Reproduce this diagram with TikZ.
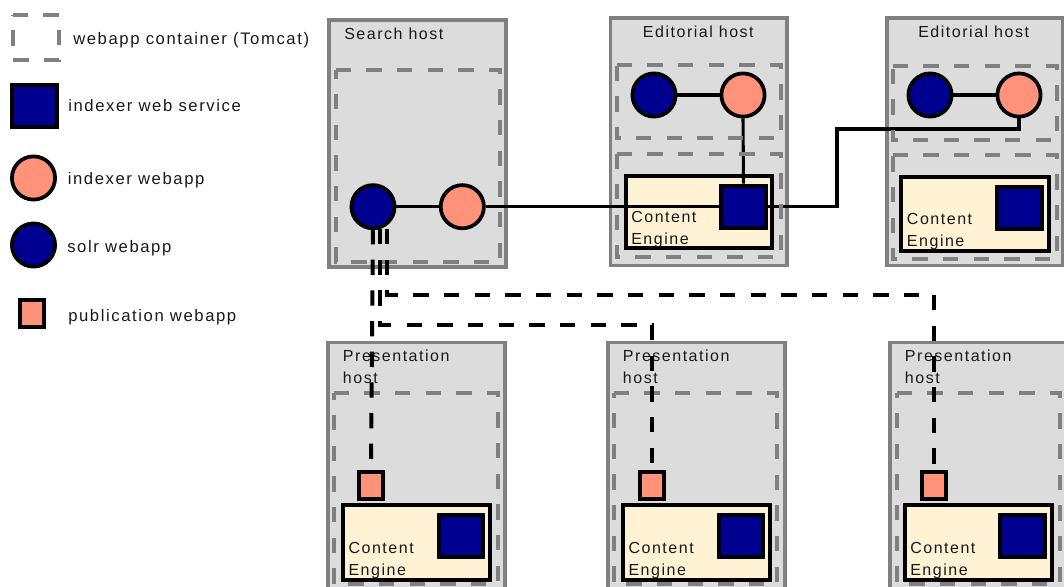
\documentclass[tikz,border=0pt]{standalone}
\usepackage{fontspec}
\setmainfont[LetterSpace=9.5]{Liberation Sans}
\definecolor{hostgray}{HTML}{808080}
\definecolor{hostfill}{HTML}{DCDCDC}
\definecolor{salmonw}{HTML}{FF9278}
\definecolor{navyw}{HTML}{000090}
\definecolor{creamw}{HTML}{FFF2D5}
\tikzset{
  hostbox/.style={draw=hostgray,fill=hostfill,line width=2.6pt,inner sep=0pt},
  enginebox/.style={draw=black,fill=creamw,line width=3pt,inner sep=0pt},
  wssquare/.style={draw=black,fill=navyw,line width=3pt,inner sep=0pt},
  pubsquare/.style={draw=black,fill=salmonw,line width=3pt,inner sep=0pt},
  solrc/.style={circle,draw=black,fill=navyw,line width=2.8pt,inner sep=0pt,minimum size=32.4pt},
  indexc/.style={circle,draw=black,fill=salmonw,line width=2.8pt,inner sep=0pt,minimum size=32.4pt},
  lbl/.style={anchor=base west,inner sep=0pt,font=\fontsize{12}{16.2}\selectfont,align=left,text=black!90},
  lgd/.style={lbl,font=\fontsize{12.5}{16.2}\selectfont},
  link/.style={draw=black,line width=2.3pt},
  dashlink/.style={draw=black,line width=3pt,dash pattern=on 11.5pt off 11.5pt},
  tomcat/.style={draw=hostgray,line width=2.8pt,dash pattern=on 11.5pt off 11.5pt},
}
\newcommand\boxat[6]{\node[#1,minimum width={(#5-#3-4)*0.75pt},minimum height={(#6-#4-4)*0.75pt}] (#2) at ({(#3+#5)/2},{(#4+#6)/2}) {};}
\newcommand\hostat[6]{\node[#1,minimum width={(#5-#3-3.4)*0.75pt},minimum height={(#6-#4-3.4)*0.75pt}] (#2) at ({(#3+#5)/2},{(#4+#6)/2}) {};}
\newcommand\container[5]{\node[inner sep=0pt,minimum width={(#4-#2)*0.75pt},minimum height={(#5-#3)*0.75pt}] (#1) at ({(#2+#4)/2},{(#3+#5)/2}) {};
  \draw[tomcat] (#1.north west) -- (#1.north east) -- (#1.south east) -- (#1.south west) -- cycle;}
\begin{document}
\begin{tikzpicture}[x=0.75pt,y=-0.75pt]
\useasboundingbox (0,0) rectangle (1064,586);
\clip (0,0) rectangle (1064,586);
% hosts
\hostat{hostbox}{hSearch}{327.5}{18.5}{507.5}{268.5}
\hostat{hostbox}{hEdA}{609}{16.5}{788.5}{267}
\hostat{hostbox}{hEdB}{885.5}{16.5}{1064.5}{267}
\hostat{hostbox}{hPrA}{326.5}{341}{506.5}{600}
\hostat{hostbox}{hPrB}{606.5}{341}{786.5}{600}
\hostat{hostbox}{hPrC}{888.5}{341}{1068}{600}
% content engines
\boxat{enginebox}{ceEdA}{624}{174}{774}{250}
\boxat{enginebox}{ceEdB}{899}{175}{1051}{253}
\boxat{enginebox}{cePrA}{341}{503}{492}{582}
\boxat{enginebox}{cePrB}{621}{503}{772}{582}
\boxat{enginebox}{cePrC}{903}{503}{1054}{582}
% indexer web services
\boxat{wssquare}{wsEdA}{719}{183.7}{768}{229.7}
\boxat{wssquare}{wsEdB}{995}{185}{1044}{231}
\boxat{wssquare}{wsPrA}{437}{513}{485}{559}
\boxat{wssquare}{wsPrB}{717}{513}{765}{559}
\boxat{wssquare}{wsPrC}{998}{513}{1047}{559}
% publication webapps
\boxat{pubsquare}{pubA}{357}{470}{385}{501}
\boxat{pubsquare}{pubB}{638}{470}{666}{501}
\boxat{pubsquare}{pubC}{920}{470}{948}{501}
% webapps
\node[solrc] (solrS) at (373,206.7) {};
\node[indexc] (idxS) at (462.3,206.7) {};
\node[solrc] (solrA) at (654,95) {};
\node[indexc] (idxA) at (743,95) {};
\node[solrc] (solrB) at (930,95) {};
\node[indexc] (idxB) at (1019,95) {};
% labels (the anchor of a two-line label is the baseline of its last line)
\node[lbl] (tSearch) at (344,39) {Search host};
\node[lbl] (tEdA) at (642.7,37) {Editorial host};
\node[lbl] (tEdB) at (918,37) {Editorial host};
\node[lbl] (tCeEdA) at (631,244.2) {Content\\Engine};
\node[lbl] (tCeEdB) at (906.7,246.2) {Content\\Engine};
\node[lbl] (tPrA) at (342.7,383) {Presentation\\host};
\node[lbl] (tPrB) at (622.7,383) {Presentation\\host};
\node[lbl] (tPrC) at (904.7,383) {Presentation\\host};
\node[lbl] (tCePrA) at (348.3,575) {Content\\Engine};
\node[lbl] (tCePrB) at (628.3,575) {Content\\Engine};
\node[lbl] (tCePrC) at (910,575) {Content\\Engine};
% solid connectors
\coordinate (riseB) at (837,206.7);
\coordinate (runB) at (1019,129);
\draw[link] (solrS) -- (idxS);
\draw[link] (solrA) -- (idxA);
\draw[link] (solrB) -- (idxB);
\draw[link] (idxS.east) -- (wsEdA.west);
\draw[link] (idxA.south) -- (wsEdA.north);
\draw[link] (wsEdA.east) -- (riseB) |- (runB) -- (idxB.south);
% containers
\container{cSearch}{336}{70}{500}{262}
\container{cEdAt}{617}{65}{781}{138}
\container{cEdAb}{617}{154}{781}{257}
\container{cEdBt}{893}{66}{1057}{140}
\container{cEdBb}{893}{155}{1057}{259}
\container{cPrA}{334}{393}{498}{584}
\container{cPrB}{614}{393}{777}{584}
\container{cPrC}{897}{393}{1060}{584}
% dashed connectors
\coordinate (outA) at (373,229);
\coordinate (outB) at (380,229);
\coordinate (outC) at (386.7,229);
\coordinate (laneB) at (500,325);
\coordinate (laneC) at (500,294.5);
\draw[dashlink] (outA) -- (pubA.north);
\draw[dashlink] (outB) |- (laneB) -| (pubB.north);
\draw[dashlink] (outC) |- (laneC) -| (pubC.north);
% legend
\container{lgC}{13}{15}{59}{60}
\boxat{wssquare}{lgW}{10}{83}{59}{129}
\node[indexc] (lgI) at (33.5,178) {};
\node[solrc] (lgS) at (33.5,245) {};
\boxat{pubsquare}{lgP}{18}{298}{46}{329}
\node[lgd] (tLgC) at (73,44) {webapp container (Tomcat)};
\node[lgd] (tLgW) at (68,111.7) {indexer web service};
\node[lgd] (tLgI) at (67.5,184) {indexer webapp};
\node[lgd] (tLgS) at (67,252) {solr webapp};
\node[lgd] (tLgP) at (68,321) {publication webapp};
\end{tikzpicture}
\end{document}
